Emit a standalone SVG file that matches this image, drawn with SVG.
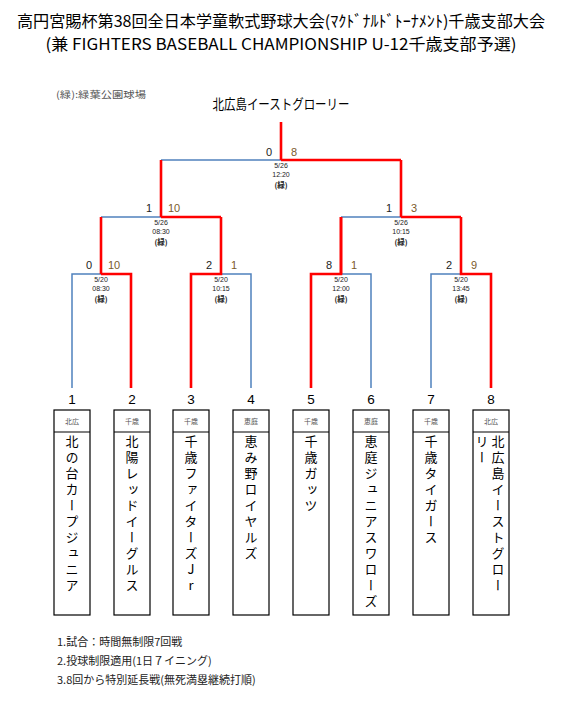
<svg xmlns="http://www.w3.org/2000/svg" width="563" height="708" viewBox="0 0 563 708">
<style>
.title{font-family:"Noto Sans CJK JP","Liberation Sans",sans-serif;font-size:16px;fill:#000;text-anchor:middle}
.venue{font-family:"Noto Sans CJK JP",sans-serif;font-size:9.5px;fill:#555}
.champ{font-family:"Noto Sans CJK JP",sans-serif;font-size:14px;fill:#000;text-anchor:middle}
.blue{fill:none;stroke:#4f81bd;stroke-width:1.5}
.red{fill:none;stroke:#ff0000;stroke-width:2.6;stroke-linejoin:miter}
.sl{font-family:"Liberation Sans Narrow","Liberation Sans",sans-serif;font-size:11px;fill:#222;text-anchor:middle}
.sr{font-family:"Liberation Sans Narrow","Liberation Sans",sans-serif;font-size:11px;fill:#7a5a2a;text-anchor:middle}
.dt{font-family:"Liberation Sans",sans-serif;font-size:7px;fill:#222;text-anchor:middle}
.vn{font-family:"Noto Sans CJK JP",sans-serif;font-size:7.5px;font-weight:bold;fill:#222;text-anchor:middle}
.num{font-family:"Liberation Sans",sans-serif;font-size:13.5px;fill:#000;text-anchor:middle}
.box{fill:#fff;stroke:#000;stroke-width:1.2}
.hd{font-family:"Noto Sans CJK JP",sans-serif;font-size:7px;fill:#555;text-anchor:middle}
.nm{font-family:"Noto Sans CJK JP",sans-serif;font-size:13px;fill:#000;writing-mode:vertical-rl;text-orientation:upright;letter-spacing:3px}
.note{font-family:"Noto Sans CJK JP",sans-serif;font-size:11px;fill:#222}
</style>
<rect width="563" height="708" fill="#fff"/>
<g id="title">
<text class="title" x="281" y="27" textLength="528" lengthAdjust="spacingAndGlyphs">高円宮賜杯第38回全日本学童軟式野球大会(ﾏｸﾄﾞﾅﾙﾄﾞﾄｰﾅﾒﾝﾄ)千歳支部大会</text>
<text class="title" x="281" y="50" textLength="471" lengthAdjust="spacingAndGlyphs">(兼 FIGHTERS BASEBALL CHAMPIONSHIP U-12千歳支部予選)</text>
</g>
<text class="venue" x="56" y="98" textLength="90" lengthAdjust="spacingAndGlyphs">(緑):緑葉公園球場</text>
<g id="champion">
<text class="champ" x="281" y="109" textLength="137" lengthAdjust="spacingAndGlyphs">北広島イーストグローリー</text>
</g>
<g id="connectors">
<path class="blue" d="M72,388V274H101"/>
<path class="blue" d="M221,274H251V388"/>
<path class="blue" d="M341,274H371V388"/>
<path class="blue" d="M431,388V274H461"/>
<path class="blue" d="M101,217H161"/>
<path class="blue" d="M341,217H401"/>
<path class="blue" d="M161,160H281"/>
<path class="red" d="M101,274H131V388"/>
<path class="red" d="M101,274V217"/>
<path class="red" d="M191,388V274H221V217"/>
<path class="red" d="M311,388V274H341V217"/>
<path class="red" d="M491,388V274H461V217"/>
<path class="red" d="M161,217H221"/>
<path class="red" d="M161,217V160"/>
<path class="red" d="M401,217H461"/>
<path class="red" d="M341,217V274"/>
<path class="red" d="M401,217V160"/>
<path class="red" d="M281,160H401"/>
<path class="red" d="M281,160V122"/>
</g>
<g id="match-final">
<text class="sl" x="269" y="156">0</text><text class="sr" x="294" y="156">8</text>
<text class="dt" x="281" y="168">5/26</text><text class="dt" x="281" y="177">12:20</text><text class="vn" x="281" y="188">(緑)</text>
</g>
<g id="match-sf1">
<text class="sl" x="149" y="212">1</text><text class="sr" x="174" y="212">10</text>
<text class="dt" x="161" y="225">5/26</text><text class="dt" x="161" y="234">08:30</text><text class="vn" x="161" y="245">(緑)</text>
</g>
<g id="match-sf2">
<text class="sl" x="389" y="212">1</text><text class="sr" x="414" y="212">3</text>
<text class="dt" x="401" y="225">5/26</text><text class="dt" x="401" y="234">10:15</text><text class="vn" x="401" y="245">(緑)</text>
</g>
<g id="match-r1">
<text class="sl" x="89" y="269">0</text><text class="sr" x="114" y="269">10</text>
<text class="dt" x="101" y="282">5/20</text><text class="dt" x="101" y="291">08:30</text><text class="vn" x="101" y="302">(緑)</text>
</g>
<g id="match-r2">
<text class="sl" x="209" y="269">2</text><text class="sr" x="234" y="269">1</text>
<text class="dt" x="221" y="282">5/20</text><text class="dt" x="221" y="291">10:15</text><text class="vn" x="221" y="302">(緑)</text>
</g>
<g id="match-r3">
<text class="sl" x="329" y="269">8</text><text class="sr" x="354" y="269">1</text>
<text class="dt" x="341" y="282">5/20</text><text class="dt" x="341" y="291">12:00</text><text class="vn" x="341" y="302">(緑)</text>
</g>
<g id="match-r4">
<text class="sl" x="449" y="269">2</text><text class="sr" x="474" y="269">9</text>
<text class="dt" x="461" y="282">5/20</text><text class="dt" x="461" y="291">13:45</text><text class="vn" x="461" y="302">(緑)</text>
</g>
<g id="team-1">
<text class="num" x="72" y="404">1</text>
<rect class="box" x="54" y="410" width="36" height="205"/><line x1="54" y1="432" x2="90" y2="432" stroke="#000" stroke-width="1.2"/>
<text class="hd" x="72" y="424">北広</text>
<text class="nm" x="72" y="435">北の台カープジュニア</text>
</g>
<g id="team-2">
<text class="num" x="132" y="404">2</text>
<rect class="box" x="114" y="410" width="36" height="205"/><line x1="114" y1="432" x2="150" y2="432" stroke="#000" stroke-width="1.2"/>
<text class="hd" x="132" y="424">千歳</text>
<text class="nm" x="132" y="435">北陽レッドイーグルス</text>
</g>
<g id="team-3">
<text class="num" x="191" y="404">3</text>
<rect class="box" x="173" y="410" width="36" height="205"/><line x1="173" y1="432" x2="209" y2="432" stroke="#000" stroke-width="1.2"/>
<text class="hd" x="191" y="424">千歳</text>
<text class="nm" x="191" y="435">千歳ファイターズJr</text>
</g>
<g id="team-4">
<text class="num" x="251" y="404">4</text>
<rect class="box" x="233" y="410" width="36" height="205"/><line x1="233" y1="432" x2="269" y2="432" stroke="#000" stroke-width="1.2"/>
<text class="hd" x="251" y="424">恵庭</text>
<text class="nm" x="251" y="435">恵み野ロイヤルズ</text>
</g>
<g id="team-5">
<text class="num" x="311" y="404">5</text>
<rect class="box" x="293" y="410" width="36" height="205"/><line x1="293" y1="432" x2="329" y2="432" stroke="#000" stroke-width="1.2"/>
<text class="hd" x="311" y="424">千歳</text>
<text class="nm" x="311" y="435">千歳ガッツ</text>
</g>
<g id="team-6">
<text class="num" x="371" y="404">6</text>
<rect class="box" x="353" y="410" width="36" height="205"/><line x1="353" y1="432" x2="389" y2="432" stroke="#000" stroke-width="1.2"/>
<text class="hd" x="371" y="424">恵庭</text>
<text class="nm" x="371" y="435">恵庭ジュニアスワローズ</text>
</g>
<g id="team-7">
<text class="num" x="431" y="404">7</text>
<rect class="box" x="413" y="410" width="36" height="205"/><line x1="413" y1="432" x2="449" y2="432" stroke="#000" stroke-width="1.2"/>
<text class="hd" x="431" y="424">千歳</text>
<text class="nm" x="431" y="435">千歳タイガース</text>
</g>
<g id="team-8">
<text class="num" x="491" y="404">8</text>
<rect class="box" x="473" y="410" width="36" height="205"/><line x1="473" y1="432" x2="509" y2="432" stroke="#000" stroke-width="1.2"/>
<text class="hd" x="491" y="424">北広</text>
<text class="nm" x="498" y="435">北広島イーストグロー</text>
<text class="nm" x="482" y="435">リー</text>
</g>
<g id="notes">
<text class="note" x="57" y="646">1.試合：時間無制限7回戦</text>
<text class="note" x="57" y="665">2.投球制限適用(1日７イニング)</text>
<text class="note" x="57" y="684">3.8回から特別延長戦(無死満塁継続打順)</text>
</g>
</svg>
